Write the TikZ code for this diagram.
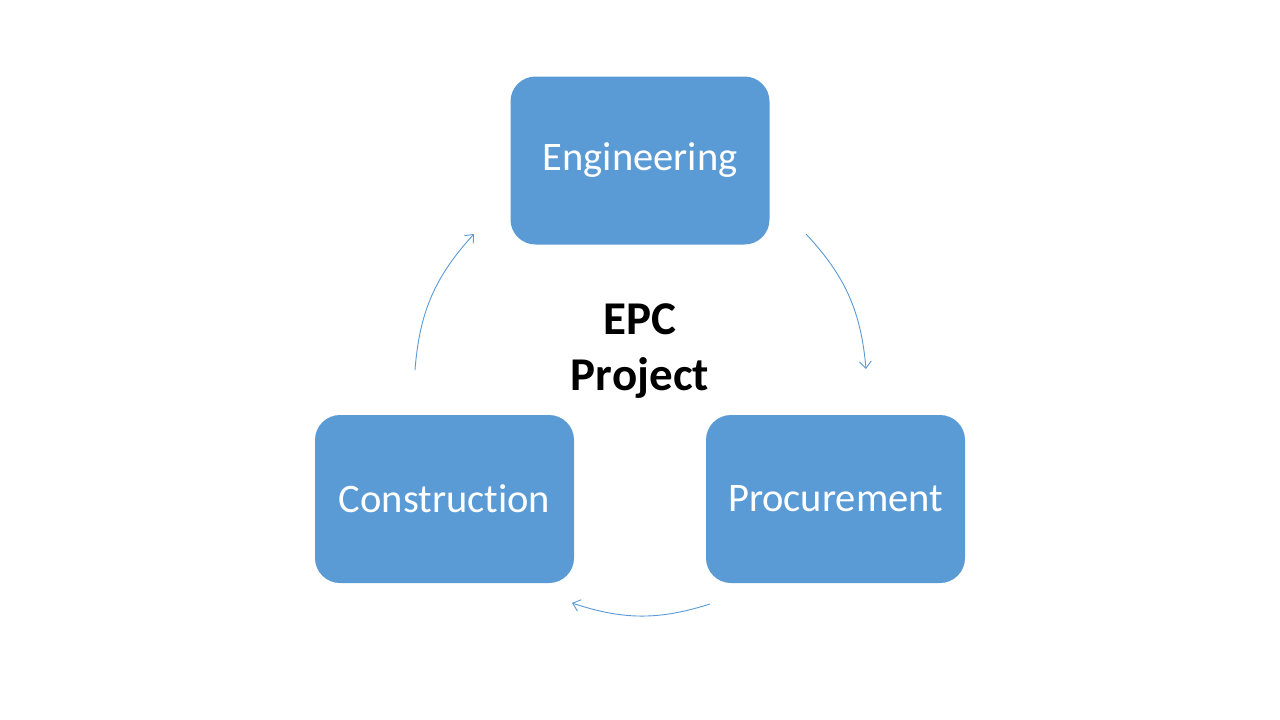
\documentclass[tikz,border=0pt]{standalone}
\usepackage{fontspec}
\setmainfont[Ligatures={NoCommon}]{Carlito}
\usetikzlibrary{arrows.meta}
\definecolor{boxblue}{HTML}{5B9BD5}
\begin{document}
\begin{tikzpicture}[x=1pt,y=-1pt,
  phase/.style={draw=none,fill=boxblue,rounded corners=25pt,minimum width=259pt,minimum height=168pt,
    text=white,font=\fontsize{40.5}{46}\selectfont,inner sep=0pt},
  cyc/.style={draw=boxblue,line width=0.9pt,-{Straight Barb[length=7pt,width=12pt,line width=0.9pt]}}]
\useasboundingbox[fill=white] (0,0) rectangle (1280,720);
\node[phase] (eng) at (640,160.5) {Engineering};
\node[phase] (con) at (444.5,499) {Construction};
\node[phase] (pro) at (835.5,499) {Procurement};
\node[font=\fontsize{47}{56}\selectfont\bfseries,align=center] (epc) at (640,351) {EPC\\Project};
\coordinate (a1) at (806,234);
\coordinate (a2) at (866,369);
\coordinate (b1) at (710,604);
\coordinate (b2) at (572,603);
\coordinate (c1) at (415,370);
\coordinate (c2) at (474,234);
\draw[cyc] (a1) to[bend left=19] (a2);
\draw[cyc] (b1) to[bend left=18] (b2);
\draw[cyc] (c1) to[bend left=19] (c2);
\end{tikzpicture}
\end{document}
